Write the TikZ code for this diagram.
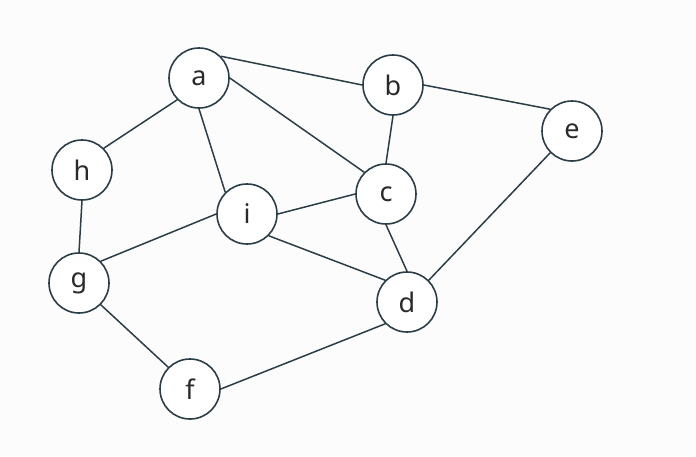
\documentclass[tikz,border=0pt]{standalone}
\usepackage{fontspec}
\setmainfont{Noto Sans}
\definecolor{ink}{HTML}{2B3E48}
\definecolor{txt}{HTML}{2A2A2A}
\definecolor{bg}{HTML}{FCFCFC}
\begin{document}
\begin{tikzpicture}[x=1pt,y=-1pt,
  vert/.style={circle,draw=ink,line width=1.6pt,fill=white,minimum size=60pt,inner sep=0pt,font=\fontsize{27}{30}\selectfont,text=txt},
  edge/.style={draw=ink,line width=1.5pt}]
\fill[bg] (0,0) rectangle (696,456);
\useasboundingbox (0,0) rectangle (696,456);
\node[vert] (a) at (199,78) {a};
\node[vert] (b) at (393,85) {b};
\node[vert] (e) at (572,131) {e};
\node[vert] (h) at (82,170) {h};
\node[vert] (c) at (386,194) {c};
\node[vert] (i) at (247,214) {i};
\node[vert] (g) at (79,283) {g};
\node[vert] (d) at (407,302) {d};
\node[vert] (f) at (190,389) {f};
\draw[edge] (a.north east) -- (b.west);
\draw[edge] (a.east) -- (c.north west);
\draw[edge] (a.south) -- (i.north west);
\draw[edge] (a.south west) -- (h.north east);
\draw[edge] (b.east) -- (e.north west);
\draw[edge] (b.south) -- (c.north);
\draw[edge] (c.west) -- (i.east);
\draw[edge] (c.south) -- (d.north);
\draw[edge] (i.west) -- (g.north east);
\draw[edge] (i.south east) -- (d.north west);
\draw[edge] (d.north east) -- (e.south west);
\draw[edge] (d.south west) -- (f.east);
\draw[edge] (f.north west) -- (g.south east);
\draw[edge] (h.south) -- (g.north);
\end{tikzpicture}
\end{document}
